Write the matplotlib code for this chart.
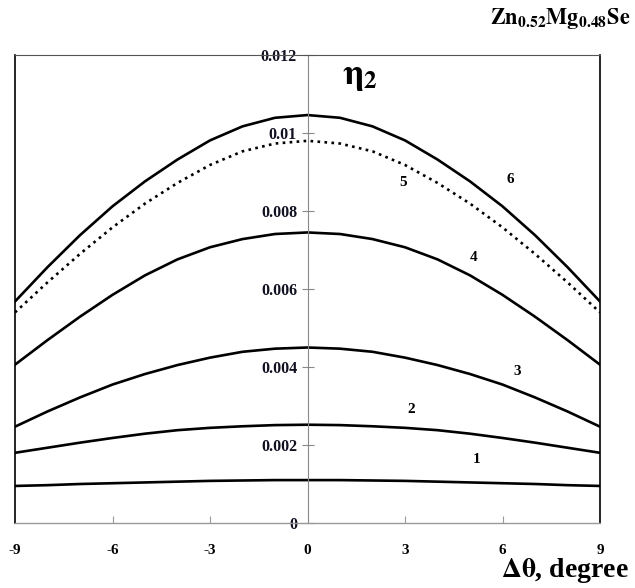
import matplotlib
matplotlib.use("Agg")
import matplotlib.pyplot as plt

plt.rcParams["font.family"] = ["Liberation Serif", "DejaVu Serif"]
plt.rcParams["mathtext.fontset"] = "stix"

# angle offsets, degree
theta = [-9, -8, -7, -6, -5, -4, -3, -2, -1, 0, 1, 2, 3, 4, 5, 6, 7, 8, 9]

curve1 = [0.00095, 0.00097, 0.00100, 0.00102, 0.00104, 0.00106, 0.00108,
          0.00109, 0.00110, 0.00110, 0.00110, 0.00109, 0.00108, 0.00106,
          0.00104, 0.00102, 0.00100, 0.00097, 0.00095]
curve2 = [0.00180, 0.00193, 0.00206, 0.00218, 0.00229, 0.00238, 0.00244,
          0.00248, 0.00251, 0.00252, 0.00251, 0.00248, 0.00244, 0.00238,
          0.00229, 0.00218, 0.00206, 0.00193, 0.00180]
curve3 = [0.00247, 0.00286, 0.00322, 0.00355, 0.00382, 0.00405, 0.00424,
          0.00439, 0.00447, 0.00450, 0.00447, 0.00439, 0.00424, 0.00405,
          0.00382, 0.00355, 0.00322, 0.00286, 0.00247]
curve4 = [0.00406, 0.00469, 0.00529, 0.00585, 0.00635, 0.00676, 0.00707,
          0.00728, 0.00741, 0.00745, 0.00741, 0.00728, 0.00707, 0.00676,
          0.00635, 0.00585, 0.00529, 0.00469, 0.00406]
curve5 = [0.00540, 0.00617, 0.00690, 0.00758, 0.00819, 0.00872, 0.00918,
          0.00953, 0.00973, 0.00980, 0.00973, 0.00953, 0.00918, 0.00872,
          0.00819, 0.00758, 0.00690, 0.00617, 0.00540]
curve6 = [0.00568, 0.00656, 0.00738, 0.00812, 0.00876, 0.00932, 0.00981,
          0.01017, 0.01039, 0.01046, 0.01039, 0.01017, 0.00981, 0.00932,
          0.00876, 0.00812, 0.00738, 0.00656, 0.00568]

curves = [curve1, curve2, curve3, curve4, curve5, curve6]
names = ["1", "2", "3", "4", "5", "6"]
label_x = [5.2, 3.2, 6.45, 5.1, 2.95, 6.25]
label_y = [0.00162, 0.0029, 0.00388, 0.00681, 0.00873, 0.00881]

x_ticks = [-9, -6, -3, 0, 3, 6, 9]
y_ticks = [0, 0.002, 0.004, 0.006, 0.008, 0.01, 0.012]
y_labels = ["0", "0.002", "0.004", "0.006", "0.008", "0.01", "0.012"]

fig = plt.figure(figsize=(6.35, 5.88), dpi=100)
ax = fig.add_axes([15 / 635, 1 - 523 / 588, 585 / 635, 468 / 588])

for i, c in enumerate(curves):
    style = ":" if names[i] == "5" else "-"
    ax.plot(theta, c, color="black", linestyle=style, linewidth=1.9,
            solid_joinstyle="round")
    ax.text(label_x[i], label_y[i], names[i], fontsize=11, fontweight="bold",
            ha="center", va="center")

ax.set_xlim(x_ticks[0], x_ticks[-1])
ax.set_ylim(y_ticks[0], y_ticks[-1])

# central y axis
ax.spines["left"].set_position(("data", 0))
ax.spines["left"].set_color("#888888")
ax.spines["left"].set_linewidth(0.8)
ax.spines["bottom"].set_color("#999999")
ax.spines["bottom"].set_linewidth(1.0)
ax.spines["top"].set_color("#555555")
ax.spines["top"].set_linewidth(0.8)
ax.spines["right"].set_color("black")
ax.spines["right"].set_linewidth(1.2)
ax.plot([0, 0], [0, 1], transform=ax.transAxes, color="black",
        linewidth=1.2, clip_on=False)

ax.set_yticks(y_ticks)
ax.set_yticklabels(y_labels, fontsize=11.5, fontweight="bold", color="#111122")
ax.tick_params(axis="y", direction="inout", length=9, width=0.8,
               color="#888888", pad=3)

ax.set_xticks(x_ticks)
ax.set_xticklabels([str(t) for t in x_ticks], fontsize=11, fontweight="bold")
ax.tick_params(axis="x", direction="in", length=5, width=0.8,
               color="#999999", pad=15)
ax.xaxis.get_major_ticks()[0].tick1line.set_visible(False)
ax.xaxis.get_major_ticks()[-1].tick1line.set_visible(False)
ax.xaxis.get_major_ticks()[3].tick1line.set_visible(False)

ax.text(0.59, 0.955, r"$\mathbf{\eta}_{\mathbf{2}}$", transform=ax.transAxes,
        fontsize=26, ha="center", va="center")

fig.text(0.993, 0.968, r"$\mathbf{Zn_{0.52}Mg_{0.48}Se}$", fontsize=16,
         ha="right", va="center")
fig.text(0.99, 0.03, r"$\mathbf{\Delta\theta}$" + ", degree", fontsize=20,
         fontweight="bold", ha="right", va="center")

fig.savefig("out.png", dpi=100)
